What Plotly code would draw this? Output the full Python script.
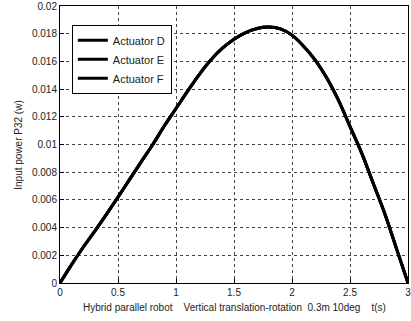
import plotly.graph_objects as go

t = [0.0, 0.1, 0.2, 0.3, 0.4, 0.5, 0.6, 0.7, 0.8, 0.9, 1.0, 1.1, 1.2, 1.3, 1.4, 1.5,
     1.6, 1.7, 1.8, 1.9, 2.0, 2.1, 2.2, 2.3, 2.4, 2.5, 2.6, 2.7, 2.8, 2.9, 3.0]
power_D = [0.0, 0.00133, 0.00258, 0.00375, 0.00496, 0.0062, 0.00748, 0.00875, 0.0100,
           0.01135, 0.0126, 0.01385, 0.01505, 0.0161, 0.01695, 0.0176, 0.01808, 0.01838,
           0.01848, 0.01835, 0.0179, 0.0171, 0.0161, 0.0148, 0.0132, 0.0113, 0.0094,
           0.0072, 0.0050, 0.0025, 0.0]
power_E = list(power_D)
power_F = list(power_D)
series_names = ["Actuator D", "Actuator E", "Actuator F"]

x_ticks = [0, 0.5, 1, 1.5, 2, 2.5, 3]
x_ticktext = ["0", "0.5", "1", "1.5", "2", "2.5", "3"]
y_ticks = [0, 0.002, 0.004, 0.006, 0.008, 0.010, 0.012, 0.014, 0.016, 0.018, 0.020]
y_ticktext = ["0", "0.002", "0.004", "0.006", "0.008", "0.01", "0.012", "0.014",
              "0.016", "0.018", "0.02"]

x_label = "Hybrid parallel robot    Vertical translation-rotation  0.3m 10deg    t(s)"
y_label = "Input power P32 (w)"

FONT = "Liberation Sans, Arial, sans-serif"

fig = go.Figure()
for name, vals in zip(series_names, [power_D, power_E, power_F]):
    fig.add_trace(go.Scatter(x=t, y=vals, mode="lines", name=name,
                             line=dict(color="black", width=3, shape="spline")))

axis_common = dict(showline=True, linecolor="black", linewidth=1, mirror=True,
                   ticks="inside", ticklen=4, tickcolor="black",
                   showgrid=True, gridcolor="#444444", griddash="dot", gridwidth=1,
                   zeroline=False, ticklabeloverflow="allow",
                   tickfont=dict(family=FONT, size=10, color="#222222"))

fig.update_layout(
    width=411, height=321,
    margin=dict(l=60, r=0, t=5, b=38),
    paper_bgcolor="white", plot_bgcolor="white",
    font=dict(family=FONT, size=10, color="#222222"),
    showlegend=True,
    legend=dict(x=0.034, y=0.932, xanchor="left", yanchor="top",
                bgcolor="white", bordercolor="black", borderwidth=1,
                font=dict(family=FONT, size=11, color="#222222"),
                itemwidth=30, tracegroupgap=0),
    xaxis=dict(range=[0, 3], tickvals=x_ticks, ticktext=x_ticktext, **axis_common),
    yaxis=dict(range=[0, 0.0200001], tickvals=y_ticks, ticktext=y_ticktext, **axis_common),
    annotations=[
        dict(text=x_label, xref="paper", yref="paper", x=0.5, y=-0.09,
             xanchor="center", yanchor="middle", showarrow=False,
             font=dict(family=FONT, size=10, color="#222222")),
        dict(text=y_label, xref="paper", yref="paper", x=-0.12, y=0.5,
             xanchor="center", yanchor="middle", showarrow=False, textangle=-90,
             font=dict(family=FONT, size=10, color="#222222")),
    ],
)

fig.write_html("out.html")
